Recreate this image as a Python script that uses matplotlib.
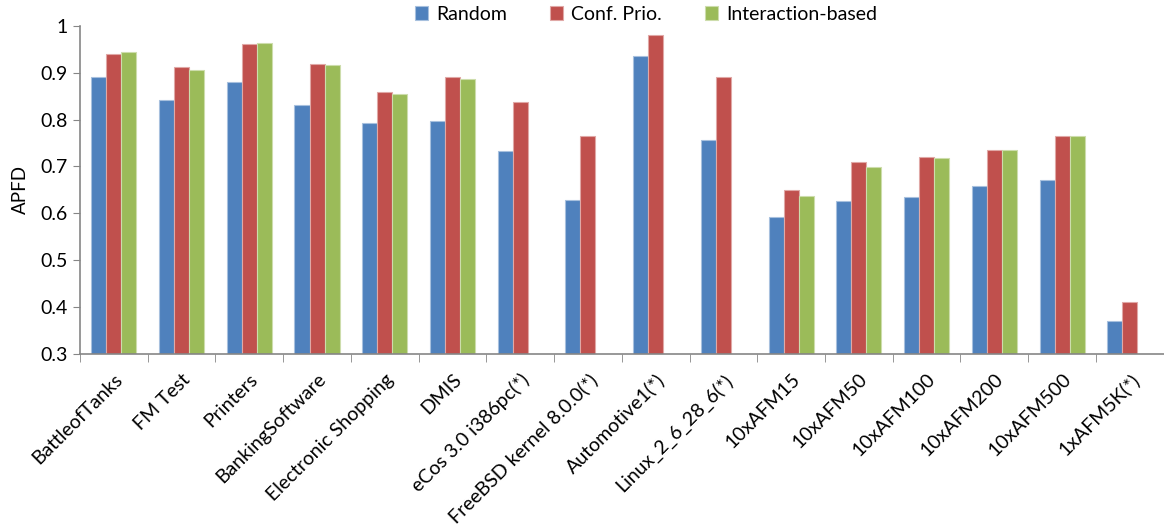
import matplotlib.pyplot as plt
import numpy as np

# APFD per subject system for the three prioritisation strategies
systems = ['BattleofTanks', 'FM Test', 'Printers', 'BankingSoftware',
           'Electronic Shopping', 'DMIS', 'eCos 3.0 i386pc(*)',
           'FreeBSD kernel 8.0.0(*)', 'Automotive1(*)', 'Linux_2_6_28_6(*)',
           '10xAFM15', '10xAFM50', '10xAFM100', '10xAFM200', '10xAFM500',
           '1xAFM5K(*)']
random_apfd = [0.891, 0.842, 0.881, 0.832, 0.793, 0.798, 0.734, 0.628,
               0.936, 0.757, 0.592, 0.626, 0.635, 0.658, 0.672, 0.370]
conf_prio = [0.940, 0.913, 0.962, 0.918, 0.858, 0.891, 0.837, 0.765,
             0.980, 0.892, 0.650, 0.710, 0.720, 0.736, 0.764, 0.410]
interaction = [0.945, 0.905, 0.963, 0.917, 0.854, 0.886, np.nan, np.nan,
               np.nan, np.nan, 0.637, 0.698, 0.719, 0.736, 0.764, np.nan]

series = [('Random', random_apfd, '#4F81BD', '#A7C0DE'),
          ('Conf. Prio.', conf_prio, '#C0504D', '#E0A8A6'),
          ('Interaction-based', interaction, '#9BBB59', '#CDDDAC')]

plt.rcParams['font.family'] = ['Lato', 'DejaVu Sans']

fig = plt.figure(figsize=(11.64, 5.29), dpi=100)
ax = fig.add_axes([0.0687, 0.331, 0.931, 0.620])

x = np.arange(len(systems))
w = 0.222
for i, (name, vals, col, edge) in enumerate(series):
    ax.bar(x + (i - 1) * w, vals, w, color=col, edgecolor=edge,
           linewidth=0.8, label=name)

ax.set_xlim(-0.5, len(systems) - 0.5)
ax.set_ylim(0.3, 1.0)
ax.set_yticks(np.arange(0.3, 1.01, 0.1))
ax.set_yticklabels(['0.3', '0.4', '0.5', '0.6', '0.7', '0.8', '0.9', '1'])
ax.set_ylabel('APFD', fontsize=13.5, labelpad=8)

ax.set_xticks(x)
ax.set_xticklabels(systems, rotation=45, ha='right', rotation_mode='anchor',
                   fontsize=14)
ax.set_xticks(np.arange(-0.5, len(systems), 1.0), minor=True)
ax.tick_params(axis='x', which='major', length=0, pad=12)
ax.tick_params(axis='x', which='minor', length=6, color='#868686')
ax.tick_params(axis='y', length=5, color='#868686', labelsize=14, pad=4)

for s in ['top', 'right']:
    ax.spines[s].set_visible(False)
for s in ['left', 'bottom']:
    ax.spines[s].set_color('#868686')
    ax.spines[s].set_linewidth(1.2)

fig.legend(loc='upper center', bbox_to_anchor=(0.555, 1.022), ncol=3,
           frameon=False, fontsize=14, handlelength=0.7, handleheight=0.7,
           handletextpad=0.4, columnspacing=2.2)

fig.savefig('out.png', dpi=100)
